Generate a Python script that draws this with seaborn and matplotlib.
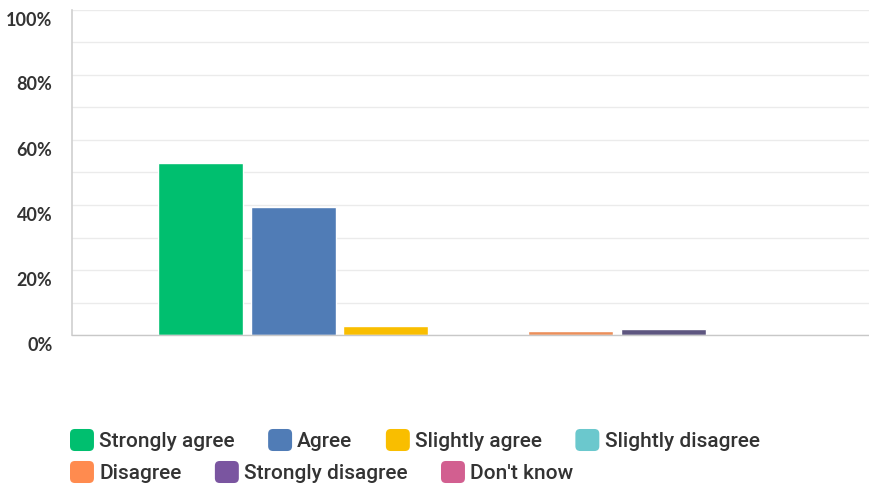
import matplotlib
matplotlib.use("Agg")
import matplotlib.pyplot as plt
import matplotlib.transforms as mtransforms
from matplotlib.patches import FancyBboxPatch, Patch
from matplotlib.legend_handler import HandlerPatch
import seaborn as sns
import pandas as pd

# Survey responses (percent of respondents)
responses = ["Strongly agree", "Agree", "Slightly agree", "Slightly disagree",
             "Disagree", "Strongly disagree", "Don't know"]
percents = [52.9, 39.4, 2.9, 0.0, 1.2, 1.8, 0.0]
colors = ["#00bf6f", "#507cb6", "#f9be00", "#6bc8cd", "#ec8f5a", "#5e5680", "#d25f90"]
legend_colors = ["#00bf6f", "#507cb6", "#f9be00", "#6bc8cd", "#ff8b4f", "#7a55a0", "#d25f90"]
y_ticks = [0, 20, 40, 60, 80, 100]

df = pd.DataFrame({"question": [""] * len(responses),
                   "response": responses,
                   "percent": percents})

sns.set_theme(style="white")
plt.rcParams["font.family"] = ["Lato", "DejaVu Sans"]

fig = plt.figure(figsize=(8.69, 4.86), dpi=100)
ax = fig.add_axes([72 / 869, 1 - 335 / 486, 1 - 72 / 869, 325 / 486])

sns.barplot(data=df, x="question", y="percent", hue="response",
            hue_order=responses, palette=colors, width=0.8, gap=0.082,
            legend=False, ax=ax, saturation=1)

ax.set_xlim(-0.5015, 0.4825)
ax.set_ylim(0, 100)
ax.set_axisbelow(True)
ax.set_yticks(y_ticks)
ax.set_yticks(range(10, 100, 20), minor=True)
ax.yaxis.grid(True, which="major", color="#ebebeb", linewidth=1.0)
ax.yaxis.grid(True, which="minor", color="#ebebeb", linewidth=1.0)
ax.set_yticklabels([f"{t}%" for t in y_ticks], fontsize=13, color="#333333",
                   fontweight="bold")
ax.tick_params(axis="y", which="both", length=0, pad=14)
ax.set_xticks([])
ax.set_xlabel("")
ax.set_ylabel("")

shift = mtransforms.ScaledTranslation(0, -0.085, fig.dpi_scale_trans)
for lab in ax.get_yticklabels():
    lab.set_transform(lab.get_transform() + shift)

for side in ["top", "right"]:
    ax.spines[side].set_visible(False)
ax.spines["left"].set_color("#d0d0d0")
ax.spines["bottom"].set_color("#c8c8c8")
ax.spines["left"].set_linewidth(1.2)
ax.spines["bottom"].set_linewidth(1.0)


class RoundedHandler(HandlerPatch):
    def create_artists(self, legend, orig_handle, xdescent, ydescent,
                       width, height, fontsize, trans):
        p = FancyBboxPatch((-xdescent + 1.5, -ydescent + 1.5), width - 3, height - 3,
                           boxstyle="round,pad=1.5,rounding_size=3.5",
                           facecolor=orig_handle.get_facecolor(),
                           edgecolor="none", transform=trans)
        return [p]


handles = [Patch(facecolor=c, label=r) for r, c in zip(responses, legend_colors)]
common = dict(frameon=False, handlelength=1.15, handleheight=1.25,
              handletextpad=0.25, columnspacing=1.6, borderpad=0, borderaxespad=0,
              loc="center left", handler_map={Patch: RoundedHandler()},
              prop={"family": ["Roboto", "DejaVu Sans"], "size": 15, "weight": "medium"})
leg1 = fig.legend(handles=handles[:4], ncol=4, bbox_to_anchor=(70 / 869, 1 - 440 / 486),
                  **common)
leg2 = fig.legend(handles=handles[4:], ncol=3, bbox_to_anchor=(70 / 869, 1 - 472 / 486),
                  **common)
for leg in (leg1, leg2):
    for t in leg.get_texts():
        t.set_color("#333333")

fig.savefig("out.png", dpi=100)
